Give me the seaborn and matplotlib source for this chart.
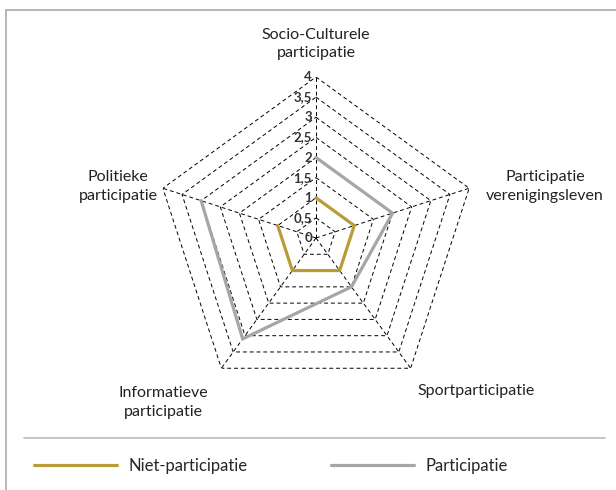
import numpy as np
import pandas as pd
import matplotlib
matplotlib.use("Agg")
import matplotlib.pyplot as plt
from matplotlib.lines import Line2D
import seaborn as sns

# ===========================
# Data
# ===========================
categories = [
    "Socio-Culturele\nparticipatie",
    "Participatie\nverenigingsleven",
    "Sportparticipatie",
    "Informatieve\nparticipatie",
    "Politieke\nparticipatie",
]
niet_participatie = [1.0, 1.0, 1.0, 1.0, 1.0]
participatie = [2.0, 2.0, 1.5, 3.1, 3.0]
r_ticks = [0, 0.5, 1, 1.5, 2, 2.5, 3, 3.5, 4]
r_tick_labels = ["0", "0,5", "1", "1,5", "2", "2,5", "3", "3,5", "4"]

GOLD = "#B99B38"
GREY = "#A6A6A6"

sns.set_theme(style="white")
plt.rcParams["font.family"] = ["Lato", "DejaVu Sans"]

# ===========================
# Figure
# ===========================
W, H = 616, 490
fig = plt.figure(figsize=(W / 100, H / 100), dpi=100)
cx, cy, R = 316, 238, 161
ax = fig.add_axes([(cx - R) / W, (H - cy - R) / H, 2 * R / W, 2 * R / H],
                  projection="polar")
ax.set_theta_offset(np.pi / 2)
ax.set_theta_direction(-1)
ax.set_ylim(0, 4)
ax.grid(False)
ax.spines["polar"].set_visible(False)
ax.set_xticks([])
ax.set_yticks([])
ax.set_facecolor("none")

n = len(categories)
theta = np.arange(n) * 2 * np.pi / n
theta_closed = np.append(theta, theta[0])

# pentagon grid
for r in r_ticks[1:]:
    ax.plot(theta_closed, [r] * (n + 1), color="black", lw=0.7,
            ls=(0, (4, 3)), zorder=1)
for t in theta:
    ax.plot([t, t], [0, 4], color="black", lw=0.7, ls=(0, (4, 3)), zorder=1)

# series
df = pd.DataFrame({
    "theta": np.concatenate([theta_closed, theta_closed]),
    "value": niet_participatie + niet_participatie[:1] + participatie + participatie[:1],
    "serie": ["Niet-participatie"] * (n + 1) + ["Participatie"] * (n + 1),
})
sns.lineplot(data=df, x="theta", y="value", hue="serie", sort=False,
             palette={"Niet-participatie": GOLD, "Participatie": GREY},
             lw=2.3, ax=ax, legend=False, zorder=3)
ax.set_xlabel("")
ax.set_ylabel("")

# radial labels along the top spoke
for r, lab in zip(r_ticks, r_tick_labels):
    ax.annotate(lab, (0, r), xytext=(-4, 0), textcoords="offset pixels",
                ha="right", va="center", fontsize=9.5, fontweight="bold",
                color="#333333", zorder=4)

# category labels
offsets = [(0, 33), (76, 2), (65, -23), (-58, -34), (-45, 2)]
for t, lab, off in zip(theta, categories, offsets):
    ax.annotate(lab, (t, 4), xytext=off, textcoords="offset pixels",
                ha="center", va="center", fontsize=11.5, color="#222222",
                linespacing=1.45, annotation_clip=False)

# frame and separator
fig.add_artist(Line2D([6 / W, 1], [1 - 10 / H, 1 - 10 / H], color="#AAAAAA", lw=1.2))
fig.add_artist(Line2D([6 / W, 6 / W], [0, 1 - 10 / H], color="#AAAAAA", lw=1.2))
fig.add_artist(Line2D([24 / W, 605 / W], [1 - 438 / H, 1 - 438 / H], color="#BBBBBB", lw=1.2))

# legend
handles = [Line2D([], [], color=GOLD, lw=2.3), Line2D([], [], color=GREY, lw=2.3)]
fig.legend(handles, ["Niet-participatie", "Participatie"], ncol=2,
           loc="center left", bbox_to_anchor=(34 / W, 1 - 466 / H),
           frameon=False, fontsize=12, handlelength=5.0, handletextpad=0.66,
           columnspacing=5.0, borderpad=0, borderaxespad=0)

fig.savefig("out.png", dpi=100)
